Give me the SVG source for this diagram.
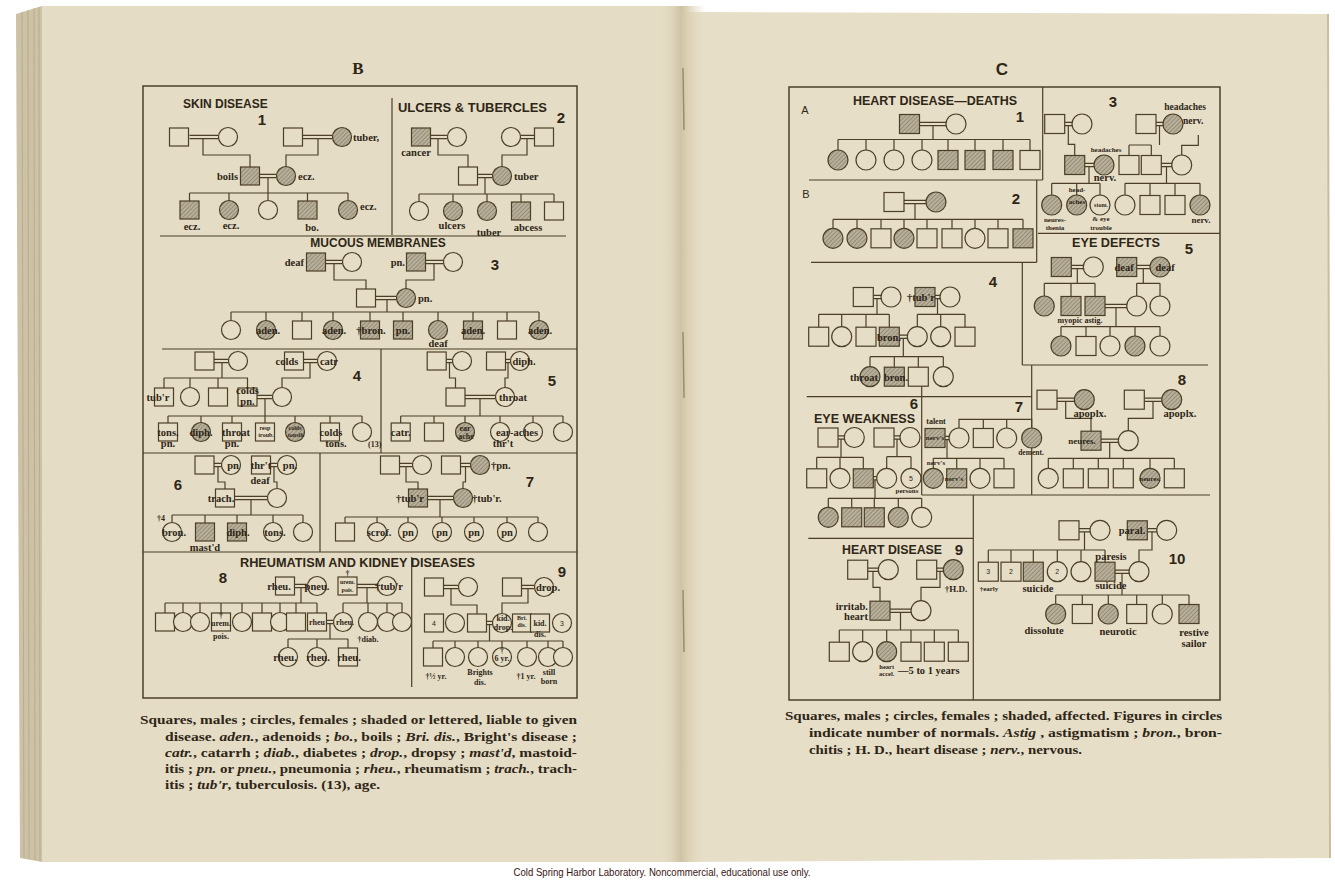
<svg xmlns="http://www.w3.org/2000/svg" xmlns:xlink="http://www.w3.org/1999/xlink" width="1335" height="888" viewBox="0 0 1335 888">
<style>
.ln{fill:none;stroke:#4b3f27;stroke-width:1.2}
.bd{fill:none;stroke:#4b3f27;stroke-width:1.5}
use{stroke:#4b3f27;stroke-width:1.2;fill:#e6ddc6}
use.h{fill:url(#hatch)}
text{fill:#2e2616}
.t{font-family:"Liberation Serif",serif;font-weight:bold;font-size:10.5px;text-anchor:middle}
.ts{font-family:"Liberation Serif",serif;font-weight:bold;font-size:8px;text-anchor:middle}
.tx{font-family:"Liberation Serif",serif;font-weight:bold;font-size:6px;text-anchor:middle}
.l{text-anchor:start}
.r{text-anchor:end}
.hd{font-family:"Liberation Sans",sans-serif;font-weight:bold;font-size:12px}
.nm{font-family:"Liberation Sans",sans-serif;font-weight:bold;font-size:15px;text-anchor:middle}
.sn{font-family:"Liberation Sans",sans-serif;font-size:7px;text-anchor:middle}
.cap{font-family:"Liberation Serif",serif;font-weight:bold;font-size:13.5px}
.i{font-style:italic}
</style>
<defs>
<pattern id="hatch" patternUnits="userSpaceOnUse" width="3" height="3" patternTransform="rotate(45)">
<rect width="3" height="3" fill="#b8b09b"/>
<line x1="0" y1="0" x2="0" y2="3" stroke="#7a705c" stroke-width="1.1"/>
</pattern>
<linearGradient id="gut" x1="0" x2="1" y1="0" y2="0">
<stop offset="0" stop-color="#e5dcc5" stop-opacity="0"/>
<stop offset="0.45" stop-color="#cfc3a4"/>
<stop offset="0.55" stop-color="#d8ccae"/>
<stop offset="1" stop-color="#e7dec8" stop-opacity="0"/>
</linearGradient>
<rect id="S" x="-9.5" y="-9" width="19" height="18"/>
<circle id="C" r="9.5"/>
<rect id="S2" x="-10" y="-9.5" width="20" height="19"/>
<circle id="C2" r="10"/>
</defs>

<!-- book / background -->
<rect width="1335" height="888" fill="#ffffff"/>
<polygon points="16,14 42,6 42,862 20,858" fill="#cdc2a6"/>
<g stroke="#b3a78b" stroke-width="0.8">
<line x1="22" y1="12" x2="24" y2="858"/><line x1="28" y1="10" x2="29" y2="859"/><line x1="34" y1="8" x2="35" y2="860"/><line x1="39" y1="7" x2="40" y2="861"/>
</g>
<rect x="42" y="6" width="640" height="856" fill="#e5dcc5"/>
<polygon points="682,12 1328,14 1330,858 682,862" fill="#e7dec8"/>
<line x1="1328" y1="14" x2="1330" y2="858" stroke="#c9bd9f" stroke-width="2"/>
<rect x="660" y="6" width="46" height="856" fill="url(#gut)"/>
<g stroke="#9a8d6e" stroke-width="1.5">
<line x1="683" y1="68" x2="684" y2="130"/><line x1="683" y1="332" x2="684" y2="398"/><line x1="683" y1="590" x2="684" y2="652"/>
</g>
<text x="662" y="876" font-family="Liberation Sans, sans-serif" font-size="10.5" text-anchor="middle" textLength="297" lengthAdjust="spacingAndGlyphs" style="fill:#3a1212">Cold Spring Harbor Laboratory. Noncommercial, educational use only.</text>

<!-- ===================== LEFT PAGE B ===================== -->
<g id="B-frame">
<text x="358" y="74" font-family="Liberation Serif, serif" font-weight="bold" font-size="17" text-anchor="middle">B</text>
<rect class="bd" x="143" y="86" width="434" height="612"/>
<path class="ln" d="M392 98V235M160 236H566M162 349H577M381 349V453M143 453H577M320 453V552M143 552H577M411.7 557V687"/>
<text class="hd" x="183" y="108">SKIN DISEASE</text>
<text class="nm" x="262" y="125">1</text>
<text class="hd" x="398" y="112" textLength="149" lengthAdjust="spacingAndGlyphs">ULCERS &amp; TUBERCLES</text>
<text class="nm" x="561" y="123">2</text>
<text class="hd" x="378" y="247" text-anchor="middle">MUCOUS MEMBRANES</text>
<text class="nm" x="495" y="270">3</text>
<text class="nm" x="357" y="381">4</text>
<text class="nm" x="552" y="386">5</text>
<text class="nm" x="178" y="490">6</text>
<text class="nm" x="530" y="487">7</text>
<text class="hd" x="240" y="567" textLength="235" lengthAdjust="spacingAndGlyphs">RHEUMATISM AND KIDNEY DISEASES</text>
<text class="nm" x="223" y="583">8</text>
<text class="nm" x="562" y="577">9</text>
</g>

<g id="connectors">
<path class="ln" d="
M189.5 135.4H218.5M189.5 138.6H218.5M203 138.6V155H250V176
M302.5 135.4H332.5M302.5 138.6H332.5M318 138.6V155H286V176
M259.5 174.4H276.5M259.5 177.6H276.5M268 177.6V193
M189.5 193H348M189.5 193V210M229 193V210M268 193V210M307.5 193V210M348 193V210
M430.5 135.4H447.5M430.5 138.6H447.5M438 138.6V155H468V176
M520.5 135.4H534.5M520.5 138.6H534.5M527 138.6V155H502V176
M477.5 174.4H492.5M477.5 177.6H492.5M485 177.6V194
M419 194H554M419 194V211M453 194V211M487 194V211M521 194V211M554 194V211
M325.5 260.4H342.5M325.5 263.6H342.5M334 263.6V280H366V298
M425.5 260.4H443.5M425.5 263.6H443.5M434 263.6V280H406V298
M375.5 296.4H396.5M375.5 299.6H396.5M387 299.6V312
M231 312H539M231 312V330M266 312V330M302 312V330M333 312V330M370 312V330M403 312V330M438 312V330M473 312V330M507 312V330M539 312V330
M214 359.4H228.5M214 362.6H228.5M222 362.6V378
M164 378H248M164 378V397M190 378V397M218 378V397M247.5 378V397
M303.5 359.4H317.5M303.5 362.6H317.5M310 362.6V378H282V397
M257 395.4H272.5M257 398.6H272.5M265 398.6V416
M168 416H362M168 416V432M201 416V432M232 416V432M265 416V432M295 416V432M330 416V432M362 416V432
M446.2 359.4H452.5M446.2 362.6H452.5M449.5 362.6V378H455.5V397
M505.5 359.4H510.5M505.5 362.6H510.5M508 362.6V378H505V397
M465 395.4H495.5M465 398.6H495.5M480 398.6V416
M400.7 416H563M400.7 416V432M434 416V432M465 416V432M500 416V432M533 416V432M563 416V432
M214 463.4H221.5M214 466.6H221.5M218 466.6V482H225V498
M270.5 463.4H277.5M270.5 466.6H277.5M274 466.6V482H277V498
M234.5 496.4H267.5M234.5 499.6H267.5M251 499.6V515
M172 515H303M172 515V532M205 515V532M237 515V532M273 515V532M303 515V532
M399.5 463.4H412.5M399.5 466.6H412.5M406 466.6V482H418V498
M460.5 463.4H470.5M460.5 466.6H470.5M465.5 466.6V482H463V498
M427.5 496.4H453.5M427.5 499.6H453.5M440 499.6V517
M345 517H538M345 517V532M377 517V532M408 517V532M442 517V532M474 517V532M507 517V532M538 517V532
M294.5 584.4H307.5M294.5 587.6H307.5M301 587.6V603
M165 603H317M165 603V622M183 603V622M200 603V622M221 603V622M242 603V622M262 603V622M280 603V622M296 603V622M317 603V622
M357 584.4H377.5M357 587.6H377.5M367 587.6V603
M343 603H402M343 603V622M368 603V622M387 603V622M402 603V622
M326.5 620.4H333.5M326.5 623.6H333.5M330 623.6V639
M288 639H348M288 639V657M317 639V657M348 639V657
M443.5 585.4H458.5M443.5 588.6H458.5M451 588.6V605H477V623
M521.5 585.4H534.5M521.5 588.6H534.5M528 588.6V603H502V623
M486.5 621.4H492.5M486.5 624.6H492.5M489.5 624.6V641
M433 641H563M433 641V657M455 641V657M478 641V657M502 641V657M527 641V657M548 641V657M563 641V657
M919.5 122.4H946M919.5 125.6H946M933 125.6V139.5
M838 139.5H1030M838 139.5V160M866 139.5V160M894 139.5V160M922 139.5V160M948 139.5V160M975 139.5V160M1003 139.5V160M1030 139.5V160
M904 200.4H926M904 203.6H926M915 203.6V219.3
M833 219.3H1023M833 219.3V238.3M857 219.3V238.3M881 219.3V238.3M904 219.3V238.3M927 219.3V238.3M952 219.3V238.3M975 219.3V238.3M998 219.3V238.3M1023 219.3V238.3
M1064.7 122.4H1072M1064.7 125.6H1072M1068.3 125.6V144.3H1074.7V165
M1156 122.4H1163M1156 125.6H1163M1159.5 125.6V145
M1129 145H1151.3M1129 145V165M1151.3 145V165
M1181.7 165V145.3H1198.3V135
M1084.7 163.4H1094M1084.7 166.6H1094M1089 166.6V183.3
M1051.7 183.3H1100M1051.7 183.3V205M1076.7 183.3V205M1100 183.3V205
M1161.3 163.4H1171.7M1161.3 166.6H1171.7M1166.5 166.6V183.3
M1125 183.3H1200M1125 183.3V205M1150 183.3V205M1175 183.3V205M1200 183.3V205
M1071.3 265.4H1083.3M1071.3 268.6H1083.3M1077.3 268.6V283.3
M1044.3 283.3H1095M1044.3 283.3V306M1071 283.3V306M1095 283.3V306
M1136.7 265.4H1150M1136.7 268.6H1150M1143.3 268.6V283.3
M1136.7 283.3H1160M1136.7 283.3V306M1160 283.3V306
M1105 304.4H1126.7M1105 307.6H1126.7M1116 307.6V326.7
M1061 326.7H1160M1061 326.7V346M1086 326.7V346M1110 326.7V346M1135 326.7V346M1160 326.7V346
M873.3 295.4H881M873.3 298.6H881M877 298.6V314.3
M818.7 314.3H889.3M818.7 314.3V336.7M841.7 314.3V336.7M866 314.3V336.7M889.3 314.3V336.7
M935 295.4H940M935 298.6H940M937.5 298.6V314.3
M917.3 314.3H965M917.3 314.3V336.7M940.7 314.3V336.7M965 314.3V336.7
M899.3 335.1H907.3M899.3 338.3H907.3M903.3 338.3V356.7
M870 356.7H943.3M870 356.7V376.7M894.3 356.7V376.7M918.3 356.7V376.7M943.3 356.7V376.7
M838 435.9H844.3M838 439.1H844.3M841 439.1V457.3
M816.7 457.3H863.3M816.7 457.3V478.3M840 457.3V478.3M863.3 457.3V478.3
M894 435.9H900M894 439.1H900M897 439.1V456.7
M886.7 456.7H911M886.7 456.7V478.3M911 456.7V478.3
M873.3 476.7H876.7M873.3 479.9H876.7M875 479.9V498.3
M828.3 498.3H921.7M828.3 498.3V517.3M851.7 498.3V517.3M874.3 498.3V517.3M898.3 498.3V517.3M921.7 498.3V517.3
M945 436.4H949M945 439.6H949M947 439.6V458.3
M933.3 458.3H1004M933.3 458.3V478.3M956.7 458.3V478.3M980 458.3V478.3M1004 458.3V478.3
M959 438V419.3H1031.7M983.3 419.3V438M1006.7 419.3V438M1031.7 419.3V438
M1057 398.1H1074.3M1057 401.3H1074.3M1065.7 401.3V418.3H1091V440.7
M1144.3 398.1H1161.7M1144.3 401.3H1161.7M1153 401.3V418.3H1128.3V440.7
M1101 439.1H1118.3M1101 442.3H1118.3M1109.7 442.3V458.3
M1048.3 458.3H1174.3M1048.3 458.3V478.3M1073.3 458.3V478.3M1098.3 458.3V478.3M1123.3 458.3V478.3M1150 458.3V478.3M1174.3 458.3V478.3
M867.7 568.1H878.3M867.7 571.3H878.3M873 571.3V587.3H880V610.7
M936.7 568.1H943.3M936.7 571.3H943.3M940 571.3V587.3H921V610.7
M890 609.1H911M890 612.3H911M900.5 612.3V630
M839.3 630H958.3M839.3 630V651.7M862.7 630V651.7M886.7 630V651.7M911 630V651.7M934.3 630V651.7M958.3 630V651.7
M1079 528.7H1090M1079 531.9H1090M1084.5 531.9V550
M988.3 550H1105M988.3 550V571.7M1011 550V571.7M1033.3 550V571.7M1057.3 550V571.7M1081 550V571.7M1105 550V571.7
M1147.3 528.7H1156.7M1147.3 531.9H1156.7M1152 531.9V550H1139V571.7
M1115 570.1H1129M1115 573.3H1129M1122 573.3V595
M1055.7 595H1189M1055.7 595V614M1082.3 595V614M1108.3 595V614M1136.7 595V614M1162.3 595V614M1189 595V614
"/>
</g>

<!-- Panel B1 -->
<g id="b1-m1"><use href="#S" x="179" y="137"/></g>
<g id="b1-f1"><use href="#C" x="228" y="137"/></g>
<g id="b1-m2"><use href="#S" x="293" y="137"/></g>
<g id="b1-f2"><use href="#C" class="h" x="342" y="137"/><text class="t l" x="353" y="141">tuber,</text></g>
<g id="b1-boils"><use href="#S" class="h" x="250" y="176"/><text class="t r" x="238" y="180">boils</text></g>
<g id="b1-ecz"><use href="#C" class="h" x="286" y="176"/><text class="t l" x="298" y="180">ecz.</text></g>
<g id="b1-c1"><use href="#S" class="h" x="189.5" y="210"/><text class="t" x="192" y="230">ecz.</text></g>
<g id="b1-c2"><use href="#C" class="h" x="229" y="210"/><text class="t" x="231" y="229">ecz.</text></g>
<g id="b1-c3"><use href="#C" x="268" y="210"/></g>
<g id="b1-c4"><use href="#S" class="h" x="307.5" y="210"/><text class="t" x="312" y="231">bo.</text></g>
<g id="b1-c5"><use href="#C" class="h" x="348" y="210"/><text class="t l" x="360" y="210">ecz.</text></g>

<!-- Panel B2 -->
<g id="b2-m1"><use href="#S" class="h" x="421" y="137"/><text class="t" x="416" y="156">cancer</text></g>
<g id="b2-f1"><use href="#C" x="457" y="137"/></g>
<g id="b2-f2"><use href="#C" x="511" y="137"/></g>
<g id="b2-m2"><use href="#S" x="544" y="137"/></g>
<g id="b2-g1"><use href="#S" x="468" y="176"/></g>
<g id="b2-g2"><use href="#C" class="h" x="502" y="176"/><text class="t l" x="514" y="180">tuber</text></g>
<g id="b2-c1"><use href="#C" x="419" y="211"/></g>
<g id="b2-c2"><use href="#C" class="h" x="453" y="211"/><text class="t" x="452" y="229">ulcers</text></g>
<g id="b2-c3"><use href="#C" class="h" x="487" y="211"/><text class="t" x="489" y="236">tuber</text></g>
<g id="b2-c4"><use href="#S" class="h" x="521" y="211"/><text class="t" x="528" y="231">abcess</text></g>
<g id="b2-c5"><use href="#S" x="554" y="211"/></g>

<!-- Panel B3 -->
<g id="b3-m1"><use href="#S" class="h" x="316" y="262"/><text class="t r" x="304" y="266">deaf</text></g>
<g id="b3-f1"><use href="#C" x="352" y="262"/></g>
<g id="b3-m2"><use href="#S" class="h" x="416" y="262"/><text class="t r" x="405" y="266">pn.</text></g>
<g id="b3-f2"><use href="#C" x="453" y="262"/></g>
<g id="b3-g1"><use href="#S" x="366" y="298"/></g>
<g id="b3-g2"><use href="#C" class="h" x="406" y="298"/><text class="t l" x="418" y="302">pn.</text></g>
<g id="b3-c1"><use href="#C" x="231" y="330"/></g>
<g id="b3-c2"><use href="#C" class="h" x="266" y="330"/><text class="t" x="268" y="334">aden.</text></g>
<g id="b3-c3"><use href="#S" x="302" y="330"/></g>
<g id="b3-c4"><use href="#C" class="h" x="333" y="330"/><text class="t" x="334" y="334">aden.</text></g>
<g id="b3-c5"><use href="#S" class="h" x="370" y="330"/><text class="t" x="371" y="334">†bron.</text></g>
<g id="b3-c6"><use href="#S" class="h" x="403" y="330"/><text class="t" x="403" y="334">pn.</text></g>
<g id="b3-c7"><use href="#C" class="h" x="438" y="330"/><text class="t" x="438" y="347">deaf</text></g>
<g id="b3-c8"><use href="#S" class="h" x="473" y="330"/><text class="t" x="473" y="334">aden.</text></g>
<g id="b3-c9"><use href="#S" x="507" y="330"/></g>
<g id="b3-c10"><use href="#C" class="h" x="539" y="330"/><text class="t" x="540" y="334">aden.</text></g>

<!-- Panel B4 -->
<g id="b4-m1"><use href="#S" x="204.5" y="361"/></g>
<g id="b4-f1"><use href="#C" x="238" y="361"/></g>
<g id="b4-m2"><use href="#S" x="294" y="361"/><text class="t" x="287" y="365">colds</text></g>
<g id="b4-f2"><use href="#C" x="327" y="361"/><text class="t" x="329" y="365">catr</text></g>
<g id="b4-g1"><use href="#S" x="164" y="397"/><text class="t" x="158" y="401">tub'r</text></g>
<g id="b4-g2"><use href="#C" x="190" y="397"/></g>
<g id="b4-g3"><use href="#S" x="218" y="397"/></g>
<g id="b4-g4"><use href="#S" x="247.5" y="397"/><text class="t" x="247.5" y="394">colds</text><text class="t" x="247.5" y="405">pn.</text></g>
<g id="b4-g5"><use href="#C" x="282" y="397"/></g>
<g id="b4-c1"><use href="#S" x="168" y="432"/><text class="t" x="168" y="436">tons.</text><text class="t" x="168" y="447">pn.</text></g>
<g id="b4-c2"><use href="#C" class="h" x="201" y="432"/><text class="t" x="201" y="436">diph.</text></g>
<g id="b4-c3"><use href="#S" x="232" y="432"/><text class="t" x="236" y="436">throat</text><text class="t" x="232" y="447">pn.</text></g>
<g id="b4-c4"><use href="#S" x="265" y="432"/><text class="tx" x="265" y="430">resp</text><text class="tx" x="266" y="437">troub.</text></g>
<g id="b4-c5"><use href="#C" class="h" x="295" y="432"/><text class="tx" x="295" y="430">colds</text><text class="tx" x="296" y="437">tonsils</text></g>
<g id="b4-c6"><use href="#S" x="330" y="432"/><text class="t" x="331" y="436">colds</text><text class="t" x="336" y="447">tons.</text></g>
<g id="b4-c7"><use href="#C" x="362" y="432"/><text class="ts l" x="368" y="447">(13)</text></g>

<!-- Panel B5 -->
<g id="b5-m1"><use href="#S" x="436.7" y="361"/></g>
<g id="b5-f1"><use href="#C" x="462" y="361"/></g>
<g id="b5-m2"><use href="#S" x="496" y="361"/></g>
<g id="b5-f2"><use href="#C" x="520" y="361"/><text class="t" x="524" y="365">diph.</text></g>
<g id="b5-g1"><use href="#S" x="455.5" y="397"/></g>
<g id="b5-g2"><use href="#C" x="505" y="397"/><text class="t" x="513" y="401">throat</text></g>
<g id="b5-c1"><use href="#S" x="400.7" y="432"/><text class="t" x="400.7" y="436">catr.</text></g>
<g id="b5-c2"><use href="#S" x="434" y="432"/></g>
<g id="b5-c3"><use href="#C" class="h" x="465" y="432"/><text class="ts" x="465" y="431">ear</text><text class="ts" x="466" y="439">ache</text></g>
<g id="b5-c4"><use href="#C" x="500" y="432"/><text class="t" x="503" y="447">thr't</text></g>
<g id="b5-c5"><use href="#C" x="533" y="432"/><text class="t" x="517" y="436">ear-aches</text></g>
<g id="b5-c6"><use href="#C" x="563" y="432"/></g>

<!-- Panel B6 -->
<g id="b6-m1"><use href="#S" x="204.5" y="465"/></g>
<g id="b6-f1"><use href="#C" x="231" y="465"/><text class="t" x="233" y="469">pn</text></g>
<g id="b6-m2"><use href="#S" x="261" y="465"/><text class="t" x="261" y="469">thr't</text><text class="t" x="260" y="484">deaf</text></g>
<g id="b6-f2"><use href="#C" x="287" y="465"/><text class="t" x="290" y="469">pn.</text></g>
<g id="b6-g1"><use href="#S" x="225" y="498"/><text class="t" x="221" y="502">trach.</text></g>
<g id="b6-g2"><use href="#C" x="277" y="498"/></g>
<g id="b6-c1"><use href="#C" x="172" y="532"/><text class="t" x="174" y="536">bron.</text><text class="ts" x="161" y="521">†4</text></g>
<g id="b6-c2"><use href="#S" class="h" x="205" y="532"/><text class="t" x="205" y="551">mast'd</text></g>
<g id="b6-c3"><use href="#S" class="h" x="237" y="532"/><text class="t" x="238" y="536">diph.</text></g>
<g id="b6-c4"><use href="#C" x="273" y="532"/><text class="t" x="275" y="536">tons.</text></g>
<g id="b6-c5"><use href="#C" x="303" y="532"/></g>

<!-- Panel B7 -->
<g id="b7-m1"><use href="#S" x="390" y="465"/></g>
<g id="b7-f1"><use href="#C" x="422" y="465"/></g>
<g id="b7-m2"><use href="#S" x="451" y="465"/></g>
<g id="b7-f2"><use href="#C" class="h" x="480" y="465"/><text class="t l" x="491" y="469">†pn.</text></g>
<g id="b7-g1"><use href="#S" class="h" x="418" y="498"/><text class="t" x="410" y="502">†tub'r</text></g>
<g id="b7-g2"><use href="#C" class="h" x="463" y="498"/><text class="t l" x="472" y="502">†tub'r.</text></g>
<g id="b7-c1"><use href="#S" x="345" y="532"/></g>
<g id="b7-c2"><use href="#C" x="377" y="532"/><text class="t" x="379" y="536">scrof.</text></g>
<g id="b7-c3"><use href="#C" x="408" y="532"/><text class="t" x="408" y="536">pn</text></g>
<g id="b7-c4"><use href="#C" x="442" y="532"/><text class="t" x="442" y="536">pn</text></g>
<g id="b7-c5"><use href="#C" x="474" y="532"/><text class="t" x="474" y="536">pn</text></g>
<g id="b7-c6"><use href="#C" x="507" y="532"/><text class="t" x="507" y="536">pn</text></g>
<g id="b7-c7"><use href="#C" x="538" y="532"/></g>

<!-- Panel B8 -->
<g id="b8-m1"><use href="#S" x="285" y="586"/><text class="t" x="279" y="590">rheu.</text></g>
<g id="b8-f1"><use href="#C" x="317" y="586"/><text class="t" x="317" y="590">pneu.</text></g>
<g id="b8-m2"><use href="#S" x="347.5" y="586"/><text class="ts" x="347.5" y="576">†</text><text class="tx" x="347.5" y="584">urem.</text><text class="tx" x="347.5" y="592">pois.</text></g>
<g id="b8-f2"><use href="#C" x="387" y="586"/><text class="t" x="389" y="590">†tub'r</text></g>
<g id="b8-c1"><use href="#S" x="165" y="622"/></g>
<g id="b8-c2"><use href="#C" x="183" y="622"/></g>
<g id="b8-c3"><use href="#C" x="200" y="622"/></g>
<g id="b8-c4"><use href="#S" x="221" y="622"/><text class="ts" x="221" y="618">†</text><text class="ts" x="221" y="626">urem.</text><text class="ts" x="221" y="639">pois.</text></g>
<g id="b8-c5"><use href="#C" x="242" y="622"/></g>
<g id="b8-c6"><use href="#S" x="262" y="622"/></g>
<g id="b8-c7"><use href="#C" x="280" y="622"/></g>
<g id="b8-c8"><use href="#S" x="296" y="622"/></g>
<g id="b8-c9"><use href="#S" x="317" y="622"/><text class="ts" x="317" y="625">rheu</text></g>
<g id="b8-d1"><use href="#C" x="343" y="622"/><text class="ts" x="345" y="625">rheu.</text></g>
<g id="b8-d2"><use href="#C" x="368" y="622"/><text class="ts" x="368" y="642">†diab.</text></g>
<g id="b8-d3"><use href="#C" x="387" y="622"/></g>
<g id="b8-d4"><use href="#C" x="402" y="622"/></g>
<g id="b8-e1"><use href="#C" x="288" y="657"/><text class="t" x="285" y="661">rheu.</text></g>
<g id="b8-e2"><use href="#C" x="317" y="657"/><text class="t" x="318" y="661">rheu.</text></g>
<g id="b8-e3"><use href="#S" x="348" y="657"/><text class="t" x="349" y="661">rheu.</text></g>

<!-- Panel B9 -->
<g id="b9-m1"><use href="#S" x="434" y="587"/></g>
<g id="b9-f1"><use href="#C" x="468" y="587"/></g>
<g id="b9-m2"><use href="#S" x="512" y="587"/></g>
<g id="b9-f2"><use href="#C" x="544" y="587"/><text class="t" x="548" y="591">drop.</text></g>
<g id="b9-g1"><use href="#S" x="434" y="623"/><text class="sn" x="434" y="626">4</text></g>
<g id="b9-g2"><use href="#C" x="455" y="623"/></g>
<g id="b9-g3"><use href="#S" x="477" y="623"/></g>
<g id="b9-g4"><use href="#C" x="502" y="623"/><text class="ts" x="503" y="621">kid.</text><text class="ts" x="503" y="630">drop.</text></g>
<g id="b9-g5"><use href="#S" x="522" y="623"/><text class="tx" x="522" y="620">Bri.</text><text class="tx" x="522" y="627">dis.</text></g>
<g id="b9-g6"><use href="#S" x="540" y="623"/><text class="ts" x="540" y="626">kid.</text><text class="ts" x="540" y="637">dis.</text></g>
<g id="b9-g7"><use href="#C" x="562" y="623"/><text class="sn" x="562" y="626">3</text></g>
<g id="b9-c1"><use href="#S" x="433" y="657"/><text class="ts" x="436" y="679">†½ yr.</text></g>
<g id="b9-c2"><use href="#C" x="455" y="657"/></g>
<g id="b9-c3"><use href="#C" x="478" y="657"/><text class="ts" x="480" y="675">Brights</text><text class="ts" x="480" y="685">dis.</text></g>
<g id="b9-c4"><use href="#C" x="502" y="657"/><text class="ts" x="502" y="653">†</text><text class="ts" x="502" y="661">6 yr.</text></g>
<g id="b9-c5"><use href="#C" x="527" y="657"/><text class="ts" x="526" y="679">†1 yr.</text></g>
<g id="b9-c6"><use href="#C" x="548" y="657"/><text class="ts" x="549" y="675">still</text><text class="ts" x="549" y="684">born</text></g>
<g id="b9-c7"><use href="#C" x="563" y="657"/></g>

<!-- left caption -->
<g id="B-caption">
<text class="cap" x="140" y="724" textLength="437" lengthAdjust="spacingAndGlyphs">Squares, males ; circles, females ; shaded or lettered, liable to given</text>
<text class="cap" x="165" y="740.5" textLength="412" lengthAdjust="spacingAndGlyphs">disease.  <tspan class="i">aden.</tspan>, adenoids ; <tspan class="i">bo.</tspan>, boils ; <tspan class="i">Bri. dis.</tspan>, Bright's disease ;</text>
<text class="cap" x="165" y="757" textLength="412" lengthAdjust="spacingAndGlyphs"><tspan class="i">catr.</tspan>, catarrh ; <tspan class="i">diab.</tspan>, diabetes ; <tspan class="i">drop.</tspan>, dropsy ; <tspan class="i">mast'd</tspan>, mastoid-</text>
<text class="cap" x="165" y="773" textLength="412" lengthAdjust="spacingAndGlyphs">itis ; <tspan class="i">pn.</tspan> or <tspan class="i">pneu.</tspan>, pneumonia ; <tspan class="i">rheu.</tspan>, rheumatism ; <tspan class="i">trach.</tspan>, trach-</text>
<text class="cap" x="165" y="789" textLength="215" lengthAdjust="spacingAndGlyphs">itis ; <tspan class="i">tub'r</tspan>, tuberculosis.  (13), age.</text>
</g>

<!-- ===================== RIGHT PAGE C ===================== -->
<g id="C-frame">
<text x="1002" y="75" font-family="Liberation Sans, sans-serif" font-weight="bold" font-size="17" text-anchor="middle">C</text>
<rect class="bd" x="789" y="87" width="431" height="613"/>
<path class="ln" d="M1042.7 87V180M809 180H1042.7M1036.7 180V262.3M811 262.3H1036.7M1038 233.3H1220M1022.3 262.3V365M1022.3 365H1208M1031.7 365V495M806.7 396.7H1031.7M921.7 386V495M921.7 495H1210M973.3 495V700M808.3 538.3H973.3"/>
<text class="hd" x="853" y="104.5" textLength="164" lengthAdjust="spacingAndGlyphs">HEART DISEASE—DEATHS</text>
<text x="805" y="114" font-family="Liberation Sans, sans-serif" font-size="11" text-anchor="middle">A</text>
<text class="nm" x="1020" y="122">1</text>
<text x="806" y="198" font-family="Liberation Sans, sans-serif" font-size="11" text-anchor="middle">B</text>
<text class="nm" x="1016" y="204">2</text>
<text class="nm" x="1113" y="107">3</text>
<text class="hd" x="1072" y="246.5" textLength="88" lengthAdjust="spacingAndGlyphs">EYE DEFECTS</text>
<text class="nm" x="1189" y="254">5</text>
<text class="nm" x="993" y="287">4</text>
<text class="nm" x="914" y="409">6</text>
<text class="hd" x="814" y="423" textLength="101" lengthAdjust="spacingAndGlyphs">EYE WEAKNESS</text>
<text class="nm" x="1019" y="412">7</text>
<text class="nm" x="1182" y="385">8</text>
<text class="hd" x="842" y="553.5" textLength="100" lengthAdjust="spacingAndGlyphs">HEART DISEASE</text>
<text class="nm" x="959" y="555">9</text>
<text class="nm" x="1177" y="564">10</text>
</g>

<!-- C1 -->
<g id="c1-m"><use href="#S2" class="h" x="909.5" y="124"/></g>
<g id="c1-f"><use href="#C2" x="956" y="124"/></g>
<g id="c1-k1"><use href="#C2" class="h" x="838" y="160"/></g>
<g id="c1-k2"><use href="#C2" x="866" y="160"/></g>
<g id="c1-k3"><use href="#C2" x="894" y="160"/></g>
<g id="c1-k4"><use href="#C2" x="922" y="160"/></g>
<g id="c1-k5"><use href="#S2" class="h" x="948" y="160"/></g>
<g id="c1-k6"><use href="#S2" class="h" x="975" y="160"/></g>
<g id="c1-k7"><use href="#S2" class="h" x="1003" y="160"/></g>
<g id="c1-k8"><use href="#S2" x="1030" y="160"/></g>

<!-- C2 -->
<g id="c2-m"><use href="#S2" x="894" y="202"/></g>
<g id="c2-f"><use href="#C2" class="h" x="936" y="202"/></g>
<g id="c2-k1"><use href="#C2" class="h" x="833" y="238.3"/></g>
<g id="c2-k2"><use href="#C2" class="h" x="857" y="238.3"/></g>
<g id="c2-k3"><use href="#S2" x="881" y="238.3"/></g>
<g id="c2-k4"><use href="#C2" class="h" x="904" y="238.3"/></g>
<g id="c2-k5"><use href="#S2" x="927" y="238.3"/></g>
<g id="c2-k6"><use href="#S2" x="952" y="238.3"/></g>
<g id="c2-k7"><use href="#C2" x="975" y="238.3"/></g>
<g id="c2-k8"><use href="#S2" x="998" y="238.3"/></g>
<g id="c2-k9"><use href="#S2" class="h" x="1023" y="238.3"/></g>

<!-- C3 -->
<g id="c3-m1"><use href="#S2" x="1054.7" y="124"/></g>
<g id="c3-f1"><use href="#C2" x="1082" y="124"/></g>
<g id="c3-m2"><use href="#S2" x="1146" y="124"/></g>
<g id="c3-f2"><use href="#C2" class="h" x="1173" y="124"/><text class="ts" x="1185" y="110" style="font-size:9.5px">headaches</text><text class="ts l" x="1183" y="124" style="font-size:9.5px">nerv.</text></g>
<g id="c3-g1"><use href="#S2" class="h" x="1074.7" y="165"/></g>
<g id="c3-g2"><use href="#C2" class="h" x="1104" y="165"/><text class="tx" x="1106" y="152" style="font-size:7px">headaches</text><text class="t" x="1105" y="181">nerv.</text></g>
<g id="c3-g3"><use href="#S2" x="1129" y="165"/></g>
<g id="c3-g4"><use href="#S2" x="1151.3" y="165"/></g>
<g id="c3-g5"><use href="#C2" x="1181.7" y="165"/></g>
<g id="c3-k1"><use href="#C2" class="h" x="1051.7" y="205"/><text class="tx" x="1055" y="222" style="font-size:7px">neures-</text><text class="tx" x="1055" y="230" style="font-size:7px">thenia</text></g>
<g id="c3-k2"><use href="#C2" class="h" x="1076.7" y="205"/><text class="tx" x="1077" y="192" style="font-size:7px">head-</text><text class="tx" x="1077" y="204" style="font-size:7px">aches</text></g>
<g id="c3-k3"><use href="#C2" x="1100" y="205"/><text class="tx" x="1101" y="207">stom.</text><text class="tx" x="1101" y="221" style="font-size:7px">&amp; eye</text><text class="tx" x="1101" y="230" style="font-size:7px">trouble</text></g>
<g id="c3-k4"><use href="#C2" x="1125" y="205"/></g>
<g id="c3-k5"><use href="#S2" x="1150" y="205"/></g>
<g id="c3-k6"><use href="#S2" x="1175" y="205"/></g>
<g id="c3-k7"><use href="#C2" class="h" x="1200" y="205"/><text class="ts" x="1201" y="223" style="font-size:9px">nerv.</text></g>

<!-- C5 -->
<g id="c5-m1"><use href="#S2" class="h" x="1061.3" y="267"/></g>
<g id="c5-f1"><use href="#C2" x="1093.3" y="267"/></g>
<g id="c5-m2"><use href="#S2" class="h" x="1126.7" y="267"/><text class="t" x="1124" y="271">deaf</text></g>
<g id="c5-f2"><use href="#C2" class="h" x="1160" y="267"/><text class="t" x="1165" y="271">deaf</text></g>
<g id="c5-g1"><use href="#C2" class="h" x="1044.3" y="306"/></g>
<g id="c5-g2"><use href="#S2" class="h" x="1071" y="306"/></g>
<g id="c5-g3"><use href="#S2" class="h" x="1095" y="306"/><text class="ts" x="1080" y="323">myopic astig.</text></g>
<g id="c5-g4"><use href="#C2" x="1136.7" y="306"/></g>
<g id="c5-g5"><use href="#C2" x="1160" y="306"/></g>
<g id="c5-k1"><use href="#C2" class="h" x="1061" y="346"/></g>
<g id="c5-k2"><use href="#S2" x="1086" y="346"/></g>
<g id="c5-k3"><use href="#C2" x="1110" y="346"/></g>
<g id="c5-k4"><use href="#C2" class="h" x="1135" y="346"/></g>
<g id="c5-k5"><use href="#C2" x="1160" y="346"/></g>

<!-- C4 -->
<g id="c4-m1"><use href="#S2" x="863.3" y="297"/></g>
<g id="c4-f1"><use href="#C2" x="891" y="297"/></g>
<g id="c4-m2"><use href="#S2" class="h" x="925" y="297"/><text class="t" x="921" y="301">†tub'r</text></g>
<g id="c4-f2"><use href="#C2" x="950" y="297"/></g>
<g id="c4-g1"><use href="#S2" x="818.7" y="336.7"/></g>
<g id="c4-g2"><use href="#C2" x="841.7" y="336.7"/></g>
<g id="c4-g3"><use href="#S2" x="866" y="336.7"/></g>
<g id="c4-g4"><use href="#S2" class="h" x="889.3" y="336.7"/><text class="t" x="889" y="340.7">bron.</text></g>
<g id="c4-g5"><use href="#C2" x="917.3" y="336.7"/></g>
<g id="c4-g6"><use href="#C2" x="940.7" y="336.7"/></g>
<g id="c4-g7"><use href="#S2" x="965" y="336.7"/></g>
<g id="c4-k1"><use href="#C2" class="h" x="870" y="376.7"/><text class="t" x="864" y="380.7">throat</text></g>
<g id="c4-k2"><use href="#S2" class="h" x="894.3" y="376.7"/><text class="t" x="896" y="380.7">bron.</text></g>
<g id="c4-k3"><use href="#S2" x="918.3" y="376.7"/></g>
<g id="c4-k4"><use href="#C2" x="943.3" y="376.7"/></g>

<!-- C6 -->
<g id="c6-m1"><use href="#S2" x="828" y="437.5"/></g>
<g id="c6-f1"><use href="#C2" x="854.3" y="437.5"/></g>
<g id="c6-m2"><use href="#S2" x="884" y="437.5"/></g>
<g id="c6-f2"><use href="#C2" x="910" y="437.5"/></g>
<g id="c6-g1"><use href="#S2" x="816.7" y="478.3"/></g>
<g id="c6-g2"><use href="#C2" x="840" y="478.3"/></g>
<g id="c6-g3"><use href="#S2" class="h" x="863.3" y="478.3"/></g>
<g id="c6-g4"><use href="#C2" x="886.7" y="478.3"/></g>
<g id="c6-g5"><use href="#C2" x="911" y="478.3"/><text class="sn" x="911" y="481">5</text><text class="tx" x="907" y="493" style="font-size:7px">persons</text></g>
<g id="c6-k1"><use href="#C2" class="h" x="828.3" y="517.3"/></g>
<g id="c6-k2"><use href="#S2" class="h" x="851.7" y="517.3"/></g>
<g id="c6-k3"><use href="#S2" class="h" x="874.3" y="517.3"/></g>
<g id="c6-k4"><use href="#C2" class="h" x="898.3" y="517.3"/></g>
<g id="c6-k5"><use href="#C2" x="921.7" y="517.3"/></g>

<!-- C7 -->
<g id="c7-m"><use href="#S2" class="h" x="935" y="438"/><text class="tx" x="936" y="424" style="font-size:8px">talent</text><text class="tx" x="935" y="440" style="font-size:7px">nerv's</text></g>
<g id="c7-f"><use href="#C2" x="959" y="438"/></g>
<g id="c7-s1"><use href="#S2" x="983.3" y="438"/></g>
<g id="c7-s2"><use href="#C2" x="1006.7" y="438"/></g>
<g id="c7-s3"><use href="#C2" class="h" x="1031.7" y="438"/><text class="tx" x="1031" y="455" style="font-size:7.5px">dement.</text></g>
<g id="c7-k1"><use href="#C2" class="h" x="933.3" y="478.3"/><text class="tx" x="936" y="465" style="font-size:7px">nerv's</text></g>
<g id="c7-k2"><use href="#S2" class="h" x="956.7" y="478.3"/><text class="tx" x="954" y="481" style="font-size:7px">nerv's</text></g>
<g id="c7-k3"><use href="#C2" x="980" y="478.3"/></g>
<g id="c7-k4"><use href="#S2" x="1004" y="478.3"/></g>

<!-- C8 -->
<g id="c8-m1"><use href="#S2" x="1047" y="399.7"/></g>
<g id="c8-f1"><use href="#C2" class="h" x="1084.3" y="399.7"/><text class="t" x="1090" y="417">apoplx.</text></g>
<g id="c8-m2"><use href="#S2" x="1134.3" y="399.7"/></g>
<g id="c8-f2"><use href="#C2" class="h" x="1171.7" y="399.7"/><text class="t" x="1180" y="417">apoplx.</text></g>
<g id="c8-g1"><use href="#S2" class="h" x="1091" y="440.7"/><text class="ts" x="1082" y="444" style="font-size:9px">neures.</text></g>
<g id="c8-g2"><use href="#C2" x="1128.3" y="440.7"/></g>
<g id="c8-k1"><use href="#C2" x="1048.3" y="478.3"/></g>
<g id="c8-k2"><use href="#S2" x="1073.3" y="478.3"/></g>
<g id="c8-k3"><use href="#S2" x="1098.3" y="478.3"/></g>
<g id="c8-k4"><use href="#S2" x="1123.3" y="478.3"/></g>
<g id="c8-k5"><use href="#C2" class="h" x="1150" y="478.3"/><text class="tx" x="1150" y="481" style="font-size:7px">neures.</text></g>
<g id="c8-k6"><use href="#S2" x="1174.3" y="478.3"/></g>

<!-- C9 -->
<g id="c9-m1"><use href="#S2" x="857.7" y="569.7"/></g>
<g id="c9-f1"><use href="#C2" x="888.3" y="569.7"/></g>
<g id="c9-m2"><use href="#S2" x="926.7" y="569.7"/></g>
<g id="c9-f2"><use href="#C2" class="h" x="953.3" y="569.7"/><text class="ts" x="956" y="592" style="font-size:9px">†H.D.</text></g>
<g id="c9-g1"><use href="#S2" class="h" x="880" y="610.7"/><text class="t r" x="868" y="610">irritab.</text><text class="t r" x="868" y="620">heart</text></g>
<g id="c9-g2"><use href="#C2" x="921" y="610.7"/></g>
<g id="c9-k1"><use href="#S2" x="839.3" y="651.7"/></g>
<g id="c9-k2"><use href="#C2" x="862.7" y="651.7"/></g>
<g id="c9-k3"><use href="#C2" class="h" x="886.7" y="651.7"/><text class="tx" x="886.7" y="669" style="font-size:6.5px">heart</text><text class="tx" x="886.7" y="675.5" style="font-size:6.5px">accel.</text><text class="t l" x="898" y="674">—5 to 1 years</text></g>
<g id="c9-k4"><use href="#S2" x="911" y="651.7"/></g>
<g id="c9-k5"><use href="#S2" x="934.3" y="651.7"/></g>
<g id="c9-k6"><use href="#S2" x="958.3" y="651.7"/></g>

<!-- C10 -->
<g id="c10-m1"><use href="#S2" x="1069" y="530.3"/></g>
<g id="c10-f1"><use href="#C2" x="1100" y="530.3"/></g>
<g id="c10-m2"><use href="#S2" class="h" x="1137.3" y="530.3"/><text class="t" x="1132" y="534">paral.</text></g>
<g id="c10-f2"><use href="#C2" x="1166.7" y="530.3"/></g>
<g id="c10-g1"><use href="#S2" x="988.3" y="571.7"/><text class="sn" x="988.3" y="574">3</text><text class="tx" x="989" y="591" style="font-size:7px">†early</text></g>
<g id="c10-g2"><use href="#S2" x="1011" y="571.7"/><text class="sn" x="1011" y="574">2</text></g>
<g id="c10-g3"><use href="#S2" class="h" x="1033.3" y="571.7"/><text class="t" x="1038" y="592">suicide</text></g>
<g id="c10-g4"><use href="#C2" x="1057.3" y="571.7"/><text class="sn" x="1057.3" y="574">2</text></g>
<g id="c10-g5"><use href="#C2" x="1081" y="571.7"/></g>
<g id="c10-g6"><use href="#S2" class="h" x="1105" y="571.7"/><text class="t" x="1111" y="560">paresis</text><text class="t" x="1111" y="589">suicide</text></g>
<g id="c10-g7"><use href="#C2" x="1139" y="571.7"/></g>
<g id="c10-k1"><use href="#C2" class="h" x="1055.7" y="614"/><text class="t" x="1044" y="634">dissolute</text></g>
<g id="c10-k2"><use href="#S2" x="1082.3" y="614"/></g>
<g id="c10-k3"><use href="#C2" class="h" x="1108.3" y="614"/><text class="t" x="1118" y="635">neurotic</text></g>
<g id="c10-k4"><use href="#S2" x="1136.7" y="614"/></g>
<g id="c10-k5"><use href="#C2" x="1162.3" y="614"/></g>
<g id="c10-k6"><use href="#S2" class="h" x="1189" y="614"/><text class="t" x="1194" y="636">restive</text><text class="t" x="1194" y="647">sailor</text></g>

<!-- right caption -->
<g id="C-caption">
<text class="cap" x="785" y="720" textLength="437" lengthAdjust="spacingAndGlyphs">Squares, males ; circles, females ; shaded, affected.  Figures in circles</text>
<text class="cap" x="809" y="736.5" textLength="413" lengthAdjust="spacingAndGlyphs">indicate number of normals.  <tspan class="i">Astig</tspan> , astigmatism ; <tspan class="i">bron.</tspan>, bron-</text>
<text class="cap" x="809" y="753.5" textLength="273" lengthAdjust="spacingAndGlyphs">chitis ; H. D., heart disease ; <tspan class="i">nerv.</tspan>, nervous.</text>
</g>
</svg>
